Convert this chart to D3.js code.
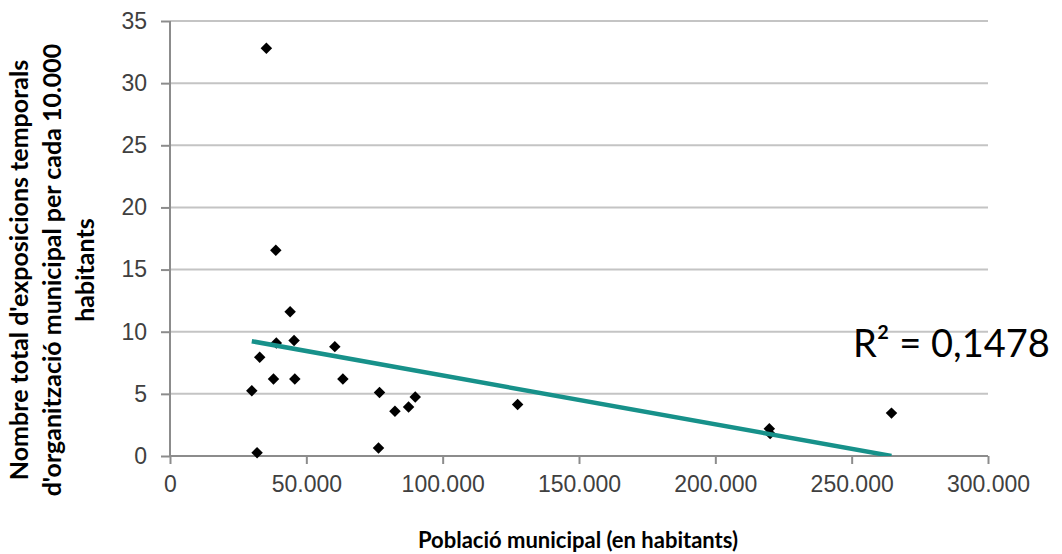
<!DOCTYPE html>
<html>
<head>
<meta charset="utf-8">
<script src="https://cdn.jsdelivr.net/npm/d3@7"></script>
<style>
  body { margin: 0; background: #fff; }
  svg { display: block; font-family: Lato, "Open Sans", sans-serif; }
  .axis path, .axis line { stroke: #8c8c8c; stroke-width: 2; }
  .axis text { fill: #404040; font-size: 23px; }
  .grid line { stroke: #c4c4c4; stroke-width: 2; }
</style>
</head>
<body>
<svg id="grafic" width="1062" height="554"></svg>
<script>
// population of each municipality (x) and exhibitions per 10.000 inhabitants (y)
var poblacio = [35350, 38800, 44050, 39000, 45500, 60450, 32900, 37950, 45780, 63400, 30000,
                76830, 89940, 87500, 82500, 31940, 76470, 127500, 219800, 220100, 264600];
var exposicions = [32.8, 16.55, 11.6, 9.1, 9.3, 8.8, 7.95, 6.2, 6.2, 6.2, 5.25,
                   5.1, 4.75, 3.95, 3.6, 0.27, 0.65, 4.15, 2.2, 1.8, 3.45];
var ticksX = [0, 50000, 100000, 150000, 200000, 250000, 300000];
var ticksY = [0, 5, 10, 15, 20, 25, 30, 35];
var etiquetaR2 = "R² = 0,1478";

var sv = d3.select("#grafic");
var x = d3.scaleLinear().domain([0, 300000]).range([170, 988]);
var y = d3.scaleLinear().domain([0, 35]).range([456, 21]);
var fmt = d3.formatLocale({decimal: ",", thousands: ".", grouping: [3], currency: ["", ""]}).format(",");

// horizontal gridlines
sv.append("g").attr("class", "grid")
  .selectAll("line").data(ticksY.slice(1)).enter().append("line")
  .attr("x1", x(0)).attr("x2", x(300000))
  .attr("y1", function(d){ return y(d); }).attr("y2", function(d){ return y(d); });

// axes
var gx = sv.append("g").attr("class", "axis")
  .attr("transform", "translate(0," + y(0) + ")")
  .call(d3.axisBottom(x).tickValues(ticksX).tickFormat(fmt).tickSize(8).tickSizeOuter(0).tickPadding(12));
var gy = sv.append("g").attr("class", "axis")
  .attr("transform", "translate(" + x(0) + ",0)")
  .call(d3.axisLeft(y).tickValues(ticksY).tickSize(9).tickSizeOuter(0).tickPadding(14));
gx.select(".domain").attr("d", "M" + x(0) + ",0H" + x(300000));
gy.select(".domain").attr("d", "M0," + y(0) + "V" + y(35));

// linear trend line (least squares)
var n = poblacio.length;
var mx = d3.mean(poblacio), my = d3.mean(exposicions);
var sxy = 0, sxx = 0;
for (var i = 0; i < n; i++) {
  sxy += (poblacio[i] - mx) * (exposicions[i] - my);
  sxx += (poblacio[i] - mx) * (poblacio[i] - mx);
}
var pendent = sxy / sxx, origen = my - pendent * mx;
var xmin = d3.min(poblacio), xmax = d3.max(poblacio);

sv.append("clipPath").attr("id", "zona")
  .append("rect").attr("x", x(0)).attr("y", y(35))
  .attr("width", x(300000) - x(0)).attr("height", y(0) - y(35));

// points
sv.append("g").selectAll("path").data(d3.range(n)).enter().append("path")
  .attr("d", d3.symbol().type(d3.symbolSquare).size(66))
  .attr("transform", function(i){ return "translate(" + x(poblacio[i]) + "," + y(exposicions[i]) + ") rotate(45)"; })
  .style("fill", "#000");

sv.append("line")
  .attr("clip-path", "url(#zona)")
  .attr("x1", x(xmin)).attr("y1", y(origen + pendent * xmin))
  .attr("x2", x(xmax)).attr("y2", y(origen + pendent * xmax))
  .style("stroke", "#17918a").style("stroke-width", 4.5);

sv.append("text")
  .attr("x", 853).attr("y", 357)
  .style("font-size", "38px").style("fill", "#000")
  .text(etiquetaR2);

// axis titles
sv.append("text")
  .attr("x", 578).attr("y", 548)
  .attr("text-anchor", "middle")
  .style("font-size", "22px").style("font-weight", "bold").style("fill", "#000")
  .text("Població municipal (en habitants)");

var titolY = ["Nombre total d'exposicions temporals", "d'organització municipal per cada 10.000", "habitants"];
sv.append("g").attr("transform", "translate(0,270) rotate(-90)")
  .selectAll("text").data(titolY).enter().append("text")
  .attr("x", 0).attr("y", function(d, i){ return 28 + i * 33; })
  .attr("text-anchor", "middle")
  .style("font-size", "25px").style("font-weight", "bold").style("fill", "#000")
  .text(function(d){ return d; });
</script>
</body>
</html>
